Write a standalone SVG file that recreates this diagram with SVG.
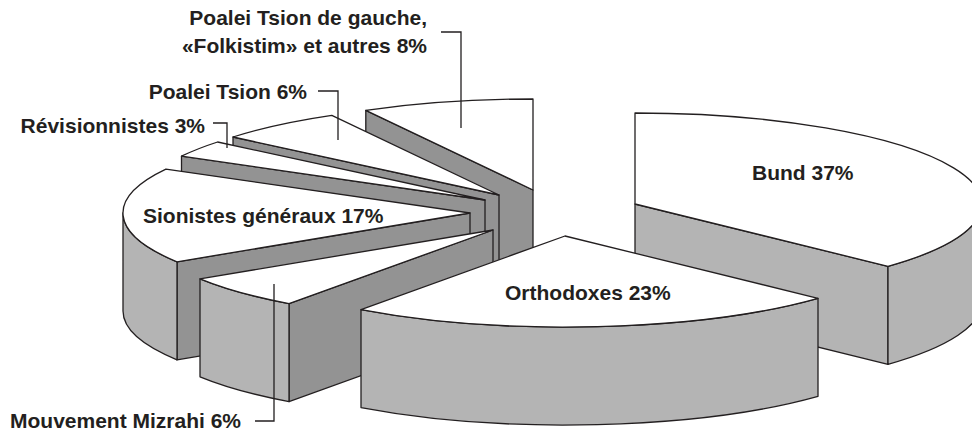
<svg xmlns="http://www.w3.org/2000/svg" width="972" height="433" viewBox="0 0 972 433">
<style>
.top{fill:#ffffff;stroke:#231f20;stroke-width:1.3;stroke-linejoin:round}
.side{fill:#b4b4b4;stroke:#231f20;stroke-width:1.3;stroke-linejoin:round}
.cut{fill:#939393;stroke:#231f20;stroke-width:1.3;stroke-linejoin:round}
.lead{fill:none;stroke:#231f20;stroke-width:1.3}
.lbl{font-family:"Liberation Sans",Arial,sans-serif;font-weight:bold;font-size:21px;fill:#231f20}
</style>
<rect width="972" height="433" fill="#ffffff"/>
<g id="slice-poalei-gauche">
<polygon class="cut" points="365.8,110.3 533,190 533,288 365.8,208.3"/>
<path class="top" d="M533,190 L365.8,110.3 A347,91 0 0,1 533,99 Z"/>
</g>
<g id="slice-poalei-tsion">
<polygon class="cut" points="233,137 499,195 499,293 233,235"/>
<path class="top" d="M499,195 L233,137 A347,91 0 0,1 331.8,115.3 Z"/>
</g>
<g id="slice-revisionnistes">
<polygon class="cut" points="181.5,156.2 485,200 485,298 181.5,254.2"/>
<path class="top" d="M485,200 L181.5,156.2 A347,91 0 0,1 217.6,142 Z"/>
</g>
<g id="slice-sionistes">
<polygon class="cut" points="177,261.8 470,213 470,311 177,359.8"/>
<path class="side" d="M177,261.8 A347,91 0 0,1 123,213 L123,311 A347,91 0 0,0 177,359.8 Z"/>
<path class="top" d="M470,213 L177,261.8 A347,91 0 0,1 165.9,169.2 Z"/>
</g>
<g id="slice-mizrahi">
<polygon class="cut" points="289,303.6 493,230 493,328 289,401.6"/>
<path class="side" d="M289,303.6 A347,91 0 0,1 200,278.8 L200,376.8 A347,91 0 0,0 289,401.6 Z"/>
<path class="top" d="M493,230 L289,303.6 A347,91 0 0,1 200,278.8 Z"/>
</g>
<g id="slice-bund">
<polygon class="side" points="635,204 888,266.3 888,364.3 635,302"/>
<path class="side" d="M982,204 A347,91 0 0,1 888,266.3 L888,364.3 A347,91 0 0,0 982,302 Z"/>
<path class="top" d="M635,204 L635,113 A347,91 0 0,1 888,266.3 Z"/>
</g>
<g id="slice-orthodoxes">
<path class="side" d="M818,298.3 A347,91 0 0,1 361,309.6 L361,407.6 A347,91 0 0,0 818,396.3 Z"/>
<path class="top" d="M565,236 L818,298.3 A347,91 0 0,1 361,309.6 Z"/>
</g>
<g id="connectors">
<path class="lead" d="M441,32 H461 V128"/>
<path class="lead" d="M318,91 H338 V140"/>
<path class="lead" d="M213,123 H227 V148"/>
<path class="lead" d="M255,421 H274 V284"/>
</g>
<g id="labels">
<text class="lbl" x="427" y="25" text-anchor="end">Poalei Tsion de gauche,</text>
<text class="lbl" x="427" y="53" text-anchor="end">«Folkistim» et autres 8%</text>
<text class="lbl" x="307" y="99" text-anchor="end">Poalei Tsion 6%</text>
<text class="lbl" x="205" y="133" text-anchor="end">Révisionnistes 3%</text>
<text class="lbl" x="143" y="223">Sionistes généraux 17%</text>
<text class="lbl" x="752" y="180">Bund 37%</text>
<text class="lbl" x="505" y="300">Orthodoxes 23%</text>
<text class="lbl" x="10" y="428">Mouvement Mizrahi 6%</text>
</g>
</svg>
